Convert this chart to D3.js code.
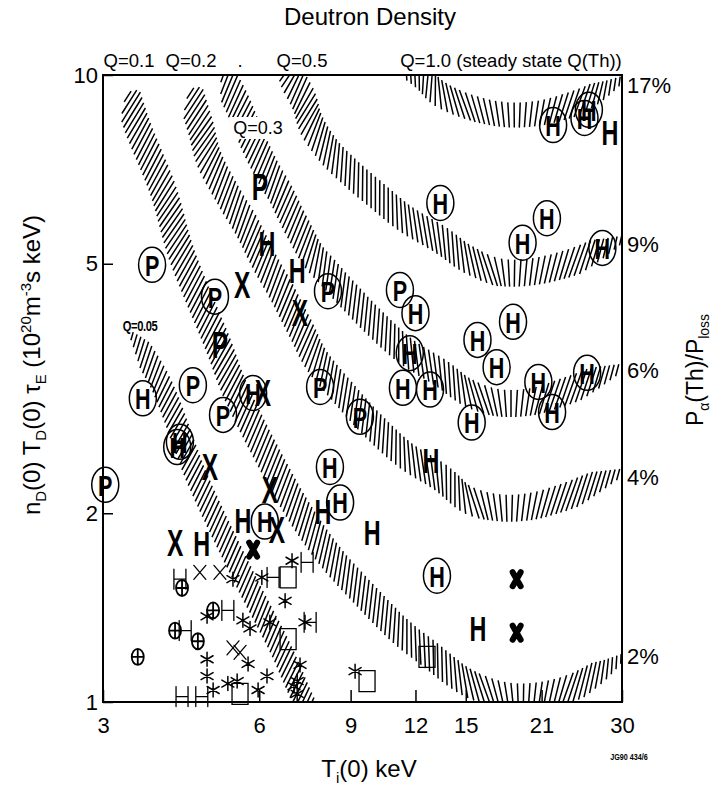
<!DOCTYPE html>
<html>
<head>
<meta charset="utf-8">
<script src="https://cdn.jsdelivr.net/npm/d3@7"></script>
<style>
body { margin: 0; background: #fff; }
text { font-family: "Liberation Sans", Arial, Helvetica, sans-serif; fill: #000; }
</style>
</head>
<body>
<script>
var width = 719, height = 788;

// points are [Ti(0) keV, nD(0) TD(0) tauE]
var circledH = [[22.1,8.32],[25.4,8.54],[25.9,8.80],[13.4,6.25],[21.5,5.91],[19.3,5.40],[27.5,5.30],
  [12.0,4.17],[18.5,4.04],[15.8,3.78],[11.7,3.60],[17.2,3.42],[11.35,3.17],[12.8,3.15],[20.7,3.24],
  [25.7,3.35],[22.0,2.90],[15.4,2.79],[3.58,3.05],[5.84,3.11],[4.17,2.55],[4.22,2.60],[8.21,2.37],
  [8.59,2.08],[6.15,1.94],[13.2,1.59]];
var circledP = [[3.73,4.98],[4.93,4.43],[8.14,4.52],[11.2,4.54],[4.47,3.20],[5.11,2.87],[7.86,3.18],
  [9.38,2.85],[3.03,2.22]];
var plainH = [[28.45,8.11],[6.21,5.40],[7.10,4.89],[4.65,1.79],[5.58,1.95],[7.96,2.02],[9.90,1.87],
  [12.86,2.43],[15.83,1.31]];
var plainP = [[6.02,6.63],[5.04,3.71]];
var bigX = [[5.56,4.62],[7.19,4.17],[6.10,3.11],[4.82,2.37],[6.29,2.18],[6.49,1.88],[4.13,1.79]];
var blobs = [[18.8,1.57],[18.8,1.29],[5.84,1.75]];
var smallH = [[4.26,1.02],[4.65,1.02],[4.22,1.57],[5.22,1.40],[4.32,1.30],[6.38,1.58],[7.42,1.67],[7.52,1.34]];
var stars = [[5.34,1.57],[6.07,1.58],[6.94,1.68],[6.73,1.45],[4.76,1.37],[5.58,1.35],[5.76,1.31],
  [6.29,1.34],[5.71,1.15],[4.76,1.17],[4.76,1.10],[4.89,1.045],[5.22,1.07],[5.44,1.08],[5.97,1.045],
  [6.21,1.10],[7.10,1.08],[7.10,1.03],[7.19,1.146],[9.18,1.12],[7.35,1.34],[7.0,1.06]];
var smallX = [[4.61,1.61],[5.04,1.61],[5.34,1.22],[5.51,1.20]];
var crossedO = [[4.89,1.40],[4.13,1.30],[4.57,1.25],[3.50,1.18],[4.26,1.52]];
var boxes = [[6.82,1.58],[6.82,1.26],[5.51,1.03],[9.68,1.08],[12.63,1.18]];

// hatched Q contours (centre lines)
var bandQ005 = [[3.40,3.85],[3.86,3.24],[4.57,2.26],[5.63,1.57],[6.58,1.22],[7.29,1.007],[7.68,0.92]];
var bandQ01 = [[3.34,9.29],[3.50,8.26],[3.91,6.56],[4.26,5.16],[5.00,3.71],[5.39,3.15],[6.15,2.52],
  [7.19,2.00],[8.21,1.71],[9.38,1.51],[11.2,1.30],[12.63,1.20],[15.3,1.07],[18.5,1.02],[22.8,1.04],
  [27.2,1.11],[30,1.175]];
var bandQ02 = [[4.41,9.40],[4.61,8.32],[4.82,7.32],[5.22,6.44],[5.68,5.72],[6.15,5.03],[6.64,4.49],
  [7.19,3.95],[7.75,3.51],[8.78,3.09],[10.03,2.74],[11.46,2.48],[13.38,2.28],[15.28,2.10],[17.46,2.04],
  [19.94,2.05],[23.1,2.12],[26.6,2.22],[30,2.32]];
var bandQ03 = [[5.09,10.0],[5.18,9.75],[5.44,8.99],[5.68,8.26],[5.94,7.59],[6.24,7.00],[6.58,6.48],
  [7.06,5.77],[7.62,5.16],[8.21,4.80],[8.78,4.51],[10.03,4.02],[11.46,3.64],[13.38,3.35],[15.28,3.11],
  [17.46,3.00],[19.94,3.01],[23.1,3.12],[26.6,3.26],[30,3.41]];
var bandQ05 = [[6.82,10.56],[6.97,9.89],[7.29,9.12],[7.62,8.26],[8.21,7.54],[8.97,7.00],[10.03,6.46],
  [11.46,5.91],[13.38,5.46],[15.28,5.07],[17.46,4.85],[19.94,4.85],[23.1,4.98],[26.6,5.20],[30,5.46]];
var bandQ10 = [[11.2,10.56],[12.24,10.0],[13.38,9.35],[15.28,8.89],[18.0,8.64],[20.85,8.70],
  [24.1,8.99],[27.2,9.36],[30,9.82]];

var xTicks = [3, 6, 9, 12, 15, 21, 30];
var yTicks = [1, 2, 5, 10];
var pctLabels = ["17%", "9%", "6%", "4%", "2%"];
var pctValues = [9.64, 5.36, 3.38, 2.28, 1.18];

var svg = d3.select("body").append("svg")
  .attr("width", width)
  .attr("height", height);
svg.append("rect").attr("width", width).attr("height", height).attr("fill", "#fff");

var x = d3.scaleLog().domain([3, 30]).range([103, 622]);
var y = d3.scaleLog().domain([1, 10]).range([702, 75]);

svg.append("defs").append("clipPath").attr("id", "clip")
  .append("rect")
  .attr("x", 103).attr("y", 75)
  .attr("width", 519).attr("height", 627);

var bandLayer = svg.append("g").attr("clip-path", "url(#clip)");
var marks = svg.append("g");

var line = d3.line()
  .x(function(d) { return x(d[0]); })
  .y(function(d) { return y(d[1]); })
  .curve(d3.curveCatmullRom.alpha(0.5));

// band drawn as short strokes across the centre line
function hatch(pts, w, tipStart, tipEnd) {
  var tmp = svg.append("path").attr("d", line(pts)).attr("fill", "none");
  var node = tmp.node(), L = node.getTotalLength(), d = "";
  for (var s = 1.5; s < L; s += 5.6) {
    var p = node.getPointAtLength(s),
        a0 = node.getPointAtLength(Math.max(0, s - 2)),
        a1 = node.getPointAtLength(Math.min(L, s + 2));
    var t = Math.atan2(a1.y - a0.y, a1.x - a0.x);
    var deg = t * 180 / Math.PI;
    var rel = (90 - 40 * Math.max(-1, Math.min(1, deg / 20))) * Math.PI / 180;
    var half = w / 2;
    if (s < tipStart) half *= 0.25 + 0.75 * s / tipStart;
    if (L - s < tipEnd) half *= 0.25 + 0.75 * (L - s) / tipEnd;
    var r = half / Math.sin(rel), ang = t + rel;
    var dx = r * Math.cos(ang), dy = r * Math.sin(ang);
    d += "M" + (p.x - dx).toFixed(1) + "," + (p.y - dy).toFixed(1) +
         "L" + (p.x + dx).toFixed(1) + "," + (p.y + dy).toFixed(1);
  }
  tmp.remove();
  bandLayer.append("path").attr("d", d)
    .attr("fill", "none").attr("stroke", "#000").attr("stroke-width", 1.5);
}

hatch(bandQ005, 22, 25, 5);
hatch(bandQ01, 27, 10, 40);
hatch(bandQ02, 27, 10, 40);
hatch(bandQ03, 27, 10, 40);
hatch(bandQ05, 27, 5, 40);
hatch(bandQ10, 25, 5, 40);

// Q=0.3 label sits in a gap of its band
svg.append("rect").attr("x", 230).attr("y", 117).attr("width", 56).attr("height", 22).attr("fill", "#fff");
svg.append("text").attr("x", 258).attr("y", 134).attr("text-anchor", "middle")
  .style("font-size", "18px").text("Q=0.3");
svg.append("text").attr("transform", "translate(140,331) scale(0.8,1)").attr("text-anchor", "middle")
  .style("font-size", "14px").style("font-weight", "bold").style("letter-spacing", "-0.5px").text("Q=0.05");

// frame
svg.append("rect").attr("x", 103).attr("y", 75).attr("width", 519).attr("height", 627)
  .attr("fill", "none").attr("stroke", "#000").attr("stroke-width", 2);

var xAxis = svg.append("g").attr("transform", "translate(0,702)")
  .call(d3.axisBottom(x).tickValues(xTicks).tickFormat(d3.format("d")).tickSizeInner(-12).tickSizeOuter(0).tickPadding(15));
xAxis.select(".domain").remove();
xAxis.selectAll("line").attr("stroke-width", 1.5);
xAxis.selectAll("text").style("font-size", "22px").attr("font-family", null);

var yAxis = svg.append("g").attr("transform", "translate(103,0)")
  .call(d3.axisLeft(y).tickValues(yTicks).tickFormat(d3.format("d")).tickSizeInner(-10).tickSizeOuter(0).tickPadding(5));
yAxis.select(".domain").remove();
yAxis.selectAll("line").attr("stroke-width", 1.5);
yAxis.selectAll("text").style("font-size", "22px").attr("font-family", null);

var rAxis = svg.append("g").attr("transform", "translate(622,0)")
  .call(d3.axisRight(y).tickValues(pctValues).tickFormat(function(d, i) { return pctLabels[i]; }).tickSize(0).tickPadding(5));
rAxis.select(".domain").remove();
rAxis.selectAll("text").style("font-size", "22px").attr("font-family", null);

// symbols
function letters(data, ch, size, sx, ring) {
  var g = marks.selectAll(null).data(data).enter().append("g")
    .attr("transform", function(d) { return "translate(" + x(d[0]) + "," + y(d[1]) + ")"; });
  if (ring) g.append("ellipse").attr("rx", 13.5).attr("ry", 17.5)
    .attr("fill", "none").attr("stroke", "#000").attr("stroke-width", 1.5);
  g.append("text").attr("transform", "scale(" + sx + ",1)")
    .attr("text-anchor", "middle").attr("dy", "0.36em")
    .style("font-size", size + "px").style("font-weight", "bold").text(ch);
}
function shapes(data, pathD, sw) {
  marks.selectAll(null).data(data).enter().append("path")
    .attr("transform", function(d) { return "translate(" + x(d[0]) + "," + y(d[1]) + ")"; })
    .attr("d", pathD).attr("fill", "none").attr("stroke", "#000")
    .attr("stroke-width", sw).attr("stroke-linecap", "round");
}

shapes(smallH, "M-6,-10V10M6,-10V10M-6,0H6", 1.3);
shapes(stars, "M0,-7V7M-6,-3.5L6,3.5M-6,3.5L6,-3.5", 1.5);
shapes(smallX, "M-6,-7L6,7M6,-7L-6,7", 1.3);
shapes(crossedO, "M-6,0a6,8 0 1,0 12,0a6,8 0 1,0 -12,0M-6,0H6M0,-8V8", 1.8);
shapes(boxes, "M-8,-10.5H8V10.5H-8Z", 1.3);
shapes(blobs, "M-4,-7L4,7M4,-7L-4,7", 6);

letters(circledH, "H", 30, 0.72, true);
letters(circledP, "P", 30, 0.72, true);
letters(plainH, "H", 36, 0.65, false);
letters(plainP, "P", 36, 0.68, false);
letters(bigX, "X", 36, 0.68, false);

// titles and labels
svg.append("text").attr("x", 370).attr("y", 25).attr("text-anchor", "middle")
  .style("font-size", "24px").text("Deutron Density");

var topLabels = [["Q=0.1", 129], ["Q=0.2", 191], [".", 240], ["Q=0.5", 302], ["Q=1.0 (steady state Q(Th))", 511]];
svg.selectAll(null).data(topLabels).enter().append("text")
  .attr("x", function(d) { return d[1]; }).attr("y", 67).attr("text-anchor", "middle")
  .style("font-size", "18.5px").text(function(d) { return d[0]; });

var xt = svg.append("text").attr("x", 369).attr("y", 777).attr("text-anchor", "middle").style("font-size", "24px");
xt.append("tspan").text("T");
xt.append("tspan").attr("dy", 6).style("font-size", "15px").text("i");
xt.append("tspan").attr("dy", -6).text("(0) keV");

var yt = svg.append("text").attr("transform", "translate(40,365) rotate(-90)").attr("text-anchor", "middle").style("font-size", "24px");
yt.append("tspan").text("n");
yt.append("tspan").attr("dy", 6).style("font-size", "15px").text("D");
yt.append("tspan").attr("dy", -6).text("(0) T");
yt.append("tspan").attr("dy", 6).style("font-size", "15px").text("D");
yt.append("tspan").attr("dy", -6).text("(0) τ");
yt.append("tspan").attr("dy", 6).style("font-size", "15px").text("E");
yt.append("tspan").attr("dy", -6).text(" (10");
yt.append("tspan").attr("dy", -9).style("font-size", "15px").text("20");
yt.append("tspan").attr("dy", 9).text("m");
yt.append("tspan").attr("dy", -9).style("font-size", "15px").text("-3");
yt.append("tspan").attr("dy", 9).text("s keV)");

var rt = svg.append("text").attr("transform", "translate(703,370) rotate(-90)").attr("text-anchor", "middle").style("font-size", "23px");
rt.append("tspan").text("P");
rt.append("tspan").attr("dy", 6).style("font-size", "14px").text("α");
rt.append("tspan").attr("dy", -6).text("(Th)/P");
rt.append("tspan").attr("dy", 6).style("font-size", "14px").text("loss");

svg.append("text").attr("transform", "translate(629,760) scale(0.8,1)").attr("text-anchor", "middle")
  .style("font-size", "9px").style("font-weight", "bold").text("JG90 434/6");
</script>
</body>
</html>
